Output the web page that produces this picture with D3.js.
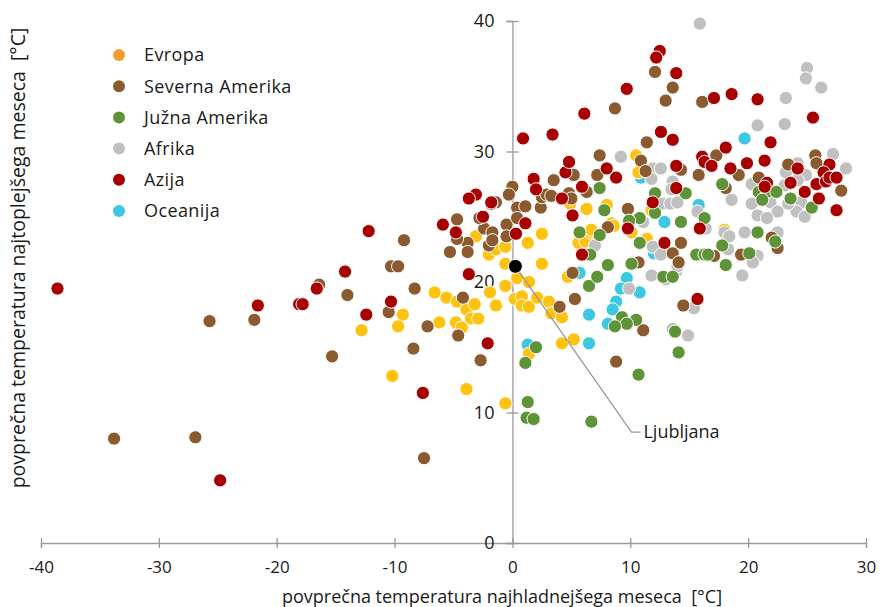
<!DOCTYPE html>
<html>
<head>
<meta charset="utf-8">
<script src="https://cdn.jsdelivr.net/npm/d3@7"></script>
<style>
  html, body { margin: 0; padding: 0; background: #fff; }
  svg { display: block; font-family: "Open Sans", "Noto Sans", sans-serif; }
  .pre { white-space: pre; }
</style>
</head>
<body>
<svg id="chart" width="880" height="607"></svg>
<script>
// ---- data (x = mean temp. of coldest month, y = mean temp. of warmest month, °C)
const seriesNames = ["Evropa", "Severna Amerika", "Južna Amerika", "Afrika", "Azija", "Oceanija"];
const pointColors = ["#FFC20E", "#8B5A2E", "#5E9437", "#C0C0C0", "#A80000", "#3CC8E0"];
const legendColors = ["#F39C32", "#8B5A2E", "#5E9437", "#C0C0C0", "#A80000", "#3CC8E0"];

const evropa = [[-3.1,23.5],[-2.0,22.1],[-1.4,22.5],[-0.6,22.7],[1.3,23.0],[2.5,23.7],[6.3,25.6],[-0.6,21.4],[2.5,21.4],[0.4,20.3],[1.4,20.0],[-0.6,19.7],[-1.9,19.2],[0.2,18.7],[0.8,18.9],[0.8,18.2],[1.4,18.1],[2.1,18.8],[3.1,18.5],[3.3,17.6],[4.2,17.3],[4.2,15.3],[5.2,15.6],[-6.6,19.2],[-5.6,18.8],[-4.7,18.5],[-3.9,17.9],[-3.2,18.3],[-3.5,17.2],[-2.9,17.2],[-1.4,18.2],[-6.2,16.9],[-4.8,16.9],[-4.3,16.5],[-3.9,11.8],[-0.6,10.7],[-10.2,12.8],[-9.3,17.5],[-9.7,16.6],[-12.8,16.3],[1.4,14.5],[4.7,20.4],[5.6,23.0],[6.2,23.1],[6.6,23.8],[4.9,26.0],[10.5,29.7],[10.7,28.4],[11.8,25.5],[8.0,25.9],[8.4,24.5],[8.6,24.3],[6.7,24.0],[10.1,23.8],[11.4,23.3],[18.0,24.0]];
const severnaAmerika = [[-25.7,17.0],[-21.9,17.1],[-33.8,8.0],[-26.9,8.1],[-9.2,23.2],[-4.7,24.8],[-5.3,22.3],[-3.8,23.0],[-3.8,22.3],[-2.4,24.1],[-1.7,23.8],[-2.0,22.8],[-0.5,24.4],[-0.5,23.5],[0.4,25.7],[1.1,25.8],[4.0,18.1],[5.3,18.7],[-4.2,18.8],[-4.6,15.9],[-2.7,14.0],[-8.4,14.9],[-7.2,16.6],[-10.5,17.7],[-15.3,14.3],[-14.0,19.0],[-16.4,19.8],[-10.3,21.2],[-9.7,21.2],[-8.3,19.5],[5.1,20.7],[-4.7,23.3],[-1.7,23.2],[0.0,27.3],[-0.3,26.7],[0.4,24.9],[2.4,25.7],[2.5,26.5],[2.9,26.7],[-2.8,24.9],[-1.4,26.1],[3.5,27.8],[3.3,26.6],[4.8,26.8],[5.0,26.4],[5.2,28.2],[6.3,26.9],[7.2,28.2],[7.4,29.7],[10.9,29.3],[11.3,28.5],[14.3,28.6],[15.8,28.2],[9.8,25.6],[8.1,24.2],[13.6,22.2],[14.3,23.0],[10.7,21.5],[8.7,33.3],[12.1,36.1],[13.6,34.9],[13.0,33.9],[16.1,33.8],[11.4,30.7],[17.3,29.7],[19.2,28.2],[20.9,28.0],[18.1,27.2],[22.0,23.4],[23.4,29.0],[25.7,29.7],[25.8,29.1],[27.9,27.0],[22.5,22.6],[17.1,22.0],[19.4,22.1],[11.1,16.3],[14.5,18.2],[8.8,13.9],[-7.5,6.5],[14.1,21.5]];
const juznaAmerika = [[1.3,10.8],[1.2,9.6],[1.8,9.5],[6.7,9.3],[2.0,15.0],[1.1,13.8],[6.5,19.7],[5.7,23.8],[6.6,22.1],[7.2,20.4],[7.4,27.2],[14.7,26.8],[12.1,26.8],[12.1,25.3],[14.3,24.6],[16.3,24.9],[7.8,25.5],[10.8,24.9],[9.9,24.7],[7.4,23.6],[10.8,23.0],[8.1,21.3],[10.1,21.4],[12.8,20.4],[13.6,20.4],[15.6,22.1],[16.3,22.1],[20.8,23.8],[22.3,23.1],[17.8,27.5],[20.9,26.9],[21.6,26.9],[22.4,26.9],[21.2,26.3],[23.6,26.4],[25.4,25.7],[17.8,22.8],[16.6,22.1],[20.1,22.2],[18.1,21.3],[9.3,17.3],[10.5,17.1],[9.7,16.8],[8.7,16.6],[13.8,16.2],[14.1,14.6],[10.7,12.9]];
const afrika = [[7.0,22.8],[9.2,29.6],[11.9,28.7],[12.6,28.7],[11.8,27.9],[13.6,27.7],[13.5,27.1],[12.0,26.1],[12.7,26.0],[13.4,26.0],[14.0,26.1],[15.7,25.4],[16.4,24.1],[11.1,24.6],[11.9,22.7],[12.6,22.1],[11.8,20.5],[13.9,20.8],[14.0,21.2],[15.9,39.8],[25.0,36.4],[24.9,35.6],[26.2,34.9],[23.2,34.1],[20.8,32.0],[23.1,32.1],[18.0,23.8],[18.4,23.5],[19.7,23.8],[22.5,23.8],[18.6,26.3],[20.9,26.9],[20.3,26.0],[20.3,27.5],[21.9,26.1],[22.5,25.4],[20.8,25.1],[21.6,24.9],[24.2,29.1],[27.2,29.8],[28.3,28.7],[23.2,28.4],[24.9,28.2],[24.2,27.8],[23.1,27.4],[24.5,26.1],[24.1,25.4],[24.8,25.0],[23.4,26.0],[18.3,22.5],[20.8,22.0],[20.4,21.5],[19.5,20.5],[13.0,20.2],[9.9,19.5],[15.4,18.0],[14.9,15.9],[13.6,16.4]];
const azija = [[-38.6,19.5],[-21.6,18.2],[-18.1,18.3],[-24.8,4.8],[-12.2,23.9],[-5.9,24.4],[-4.8,23.8],[-2.5,25.0],[0.3,23.7],[1.1,24.5],[-1.8,26.0],[-3.7,20.6],[-2.1,15.3],[-7.6,11.5],[-10.3,18.5],[-12.4,17.5],[-14.2,20.8],[-16.6,19.5],[-17.8,18.3],[5.9,22.1],[5.1,25.1],[-3.1,26.7],[-3.7,26.4],[-1.8,26.1],[1.8,27.9],[2.0,27.1],[0.9,31.0],[3.4,31.3],[6.1,32.9],[4.2,26.4],[4.5,28.4],[4.8,29.2],[5.9,27.3],[13.9,28.9],[16.1,29.6],[16.3,29.2],[13.9,27.2],[11.9,26.1],[15.9,24.1],[8.0,28.7],[8.8,28.0],[9.8,24.1],[12.9,23.0],[12.5,37.7],[12.2,37.2],[13.9,36.0],[9.7,34.8],[17.1,34.1],[18.6,34.4],[20.8,34.0],[25.5,32.6],[21.9,30.7],[12.6,31.5],[13.6,30.9],[18.1,30.3],[16.9,28.9],[18.5,28.7],[19.9,29.1],[21.4,29.3],[21.6,27.6],[21.4,27.3],[24.2,28.7],[26.9,29.0],[26.4,28.4],[23.6,27.6],[25.8,27.5],[26.6,27.7],[26.9,28.0],[27.5,28.0],[24.8,26.9],[26.0,26.4],[27.5,25.5],[15.7,18.7]];
const oceanija = [[1.3,15.2],[6.5,17.5],[6.5,15.3],[5.7,20.7],[10.9,28.0],[12.9,24.6],[15.8,25.9],[12.0,22.2],[9.7,20.3],[9.2,19.5],[10.8,19.2],[8.8,18.5],[8.5,17.9],[8.1,16.8],[19.7,31.0]];
const ljubljana = { name: "Ljubljana", x: 0.25, y: 21.2 };

const xTicks = [-40, -30, -20, -10, 0, 10, 20, 30];
const yTicks = [10, 20, 30, 40];
const xTitle = "povprečna temperatura najhladnejšega meseca  [°C]";
const yTitle = "povprečna temperatura najtoplejšega meseca  [°C]";

const seriesData = [evropa, severnaAmerika, juznaAmerika, afrika, azija, oceanija];
// drawing order (bottom to top)
const drawOrder = [5, 0, 3, 1, 2, 4];

// ---- layout
const svg = d3.select("#chart");
const x = d3.scaleLinear().domain([-40, 30]).range([41, 866]);
const y = d3.scaleLinear().domain([0, 40]).range([543, 21]);
const axisColor = "#9a9a9a";
const textColor = "#1a1a1a";

// x axis
const gx = svg.append("g").attr("transform", `translate(0,${y(0)})`)
  .call(d3.axisBottom(x).tickValues(xTicks).tickSize(5).tickPadding(13).tickFormat(d3.format("d")));
gx.select(".domain").attr("stroke", axisColor).attr("stroke-width", 1.3);
gx.selectAll(".tick line").attr("stroke", axisColor).attr("stroke-width", 1.3).attr("y1", -5).attr("y2", 5);
gx.selectAll(".tick text").attr("fill", textColor).attr("font-size", 17)
  .attr("font-family", "'Open Sans', sans-serif").text(d => d < 0 ? "-" + Math.abs(d) : d);

// y axis at x = 0
const gy = svg.append("g").attr("transform", `translate(${x(0)},0)`)
  .call(d3.axisLeft(y).tickValues([0].concat(yTicks)).tickSize(6).tickPadding(10).tickFormat(d3.format("d")));
gy.select(".domain").attr("stroke", axisColor).attr("stroke-width", 1.3);
gy.selectAll(".tick line").attr("stroke", axisColor).attr("stroke-width", 1.3).attr("x1", -6).attr("x2", 6);
gy.selectAll(".tick text").attr("fill", textColor).attr("font-size", 18)
  .attr("font-family", "'Open Sans', sans-serif").attr("dx", -2);

// points
const pts = svg.append("g");
drawOrder.forEach(i => {
  pts.append("g").selectAll("circle").data(seriesData[i]).join("circle")
    .attr("cx", d => x(d[0])).attr("cy", d => y(d[1])).attr("r", 6.6)
    .attr("fill", pointColors[i]).attr("stroke", "#fff").attr("stroke-width", 1);
});

// Ljubljana
const lx = x(ljubljana.x), ly = y(ljubljana.y);
const elbowX = x(10.1), elbowY = y(8.5);
svg.append("polyline")
  .attr("points", `${lx},${ly} ${elbowX},${elbowY} ${elbowX + 9},${elbowY}`)
  .attr("fill", "none").attr("stroke", "#999").attr("stroke-width", 1.3);
svg.append("circle").attr("cx", lx).attr("cy", ly).attr("r", 7)
  .attr("fill", "#000").attr("stroke", "#fff").attr("stroke-width", 1);
svg.append("text").attr("x", elbowX + 12).attr("y", elbowY).attr("dy", "0.35em")
  .attr("font-size", 18).attr("fill", textColor).text(ljubljana.name);

// legend
const leg = svg.append("g").attr("transform", "translate(119,55)");
seriesNames.forEach((n, i) => {
  const g = leg.append("g").attr("transform", `translate(0,${i * 31.2})`);
  g.append("circle").attr("r", 6).attr("fill", legendColors[i]);
  g.append("text").attr("x", 25).attr("dy", "0.35em").attr("font-size", 18)
    .attr("letter-spacing", 0.4).attr("fill", textColor).text(n);
});

// axis titles
svg.append("text").attr("class", "pre").attr("x", 502).attr("y", 597).attr("dy", "0.35em")
  .attr("text-anchor", "middle").attr("font-size", 18).attr("fill", textColor).text(xTitle);
svg.append("text").attr("class", "pre").attr("transform", "translate(18,258) rotate(-90)").attr("dy", "0.35em")
  .attr("text-anchor", "middle").attr("font-size", 19.5).attr("fill", textColor).text(yTitle);
</script>
</body>
</html>
